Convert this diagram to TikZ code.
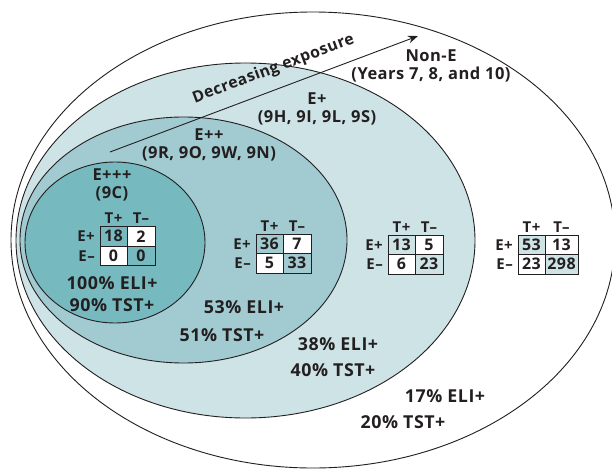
\documentclass[tikz,border=0pt]{standalone}
\usepackage{fontspec}
\setmainfont{Open Sans}[LetterSpace=3]
\usetikzlibrary{shapes.geometric,arrows.meta}

\definecolor{inkc}{HTML}{231F20}
\definecolor{tealA}{HTML}{76BAC0}
\definecolor{tealB}{HTML}{A1CBD0}
\definecolor{tealC}{HTML}{CEE3E6}

\tikzset{
  region/.style={ellipse, draw=inkc, line width=0.9pt, inner sep=0pt},
  cell/.style={draw=inkc, line width=0.9pt, minimum height=19.5pt, inner sep=0pt,
    outer sep=0pt, anchor=north west, text=inkc,
    font=\bfseries\fontsize{16}{17}\selectfont},
  hdr/.style={text=inkc, inner sep=0pt, font=\bfseries\fontsize{15}{16}\selectfont},
  lbl/.style={text=inkc, inner sep=0pt, align=center,
    font=\bfseries\fontsize{16.5}{17.5}\selectfont},
  pct/.style={text=inkc, inner sep=0pt, font=\bfseries\fontsize{17.8}{20}\selectfont},
}

% 2x2 table: #1 name, #2 left, #3 top, #4 shade of the diagonal cells,
% #5 #6 first row, #7 #8 second row, #9 width of the second column
\newcommand\conttable[9]{%
  \node[cell, fill=#4, minimum width=27pt] (#1-a) at (#2,#3) {#5};
  \node[cell, fill=white, minimum width=#9pt] (#1-b) at (#1-a.north east) {#6};
  \node[cell, fill=white, minimum width=27pt] (#1-c) at (#1-a.south west) {#7};
  \node[cell, fill=#4, minimum width=#9pt] (#1-d) at (#1-a.south east) {#8};
  \node[hdr, anchor=base] (#1-tp) at ([yshift=3pt]#1-a.north) {T+};
  \node[hdr, anchor=base] (#1-tm) at ([yshift=3pt]#1-b.north) {T–};
  \node[hdr, anchor=east] (#1-ep) at ([xshift=-5pt]#1-a.west) {E+};
  \node[hdr, anchor=east] (#1-em) at ([xshift=-5pt]#1-c.west) {E–};
}

\begin{document}
\begin{tikzpicture}[x=1pt,y=-1pt]
  \useasboundingbox (0,0) rectangle (612,468);
  \fill[white] (0,0) rectangle (612,468);

  % nested exposure regions
  \node[region, fill=white, minimum width=604pt, minimum height=456pt] (nonE) at (313,240) {};
  \node[region, fill=tealC, minimum width=459pt, minimum height=355pt] (eP) at (245.5,240.5) {};
  \node[region, fill=tealB, minimum width=327pt, minimum height=246pt] (ePP) at (183.5,240) {};
  \node[region, fill=tealA, minimum width=180pt, minimum height=161pt] (ePPP) at (115,242.5) {};

  % exposure gradient arrow
  \coordinate (arrS) at (110,152);
  \coordinate (arrE) at (418,36);
  \draw[draw=inkc, line width=0.9pt, -{Stealth[length=10pt,width=7.5pt]}] (arrS) -- (arrE);
  \node[lbl, font=\bfseries\fontsize{15.8}{17}\selectfont, rotate=20.7, anchor=base]
    (dec) at (275,73) {Decreasing exposure};

  % region labels
  \node[lbl] (lNonE) at (431,66) {Non-E\\(Years 7, 8, and 10)};
  \node[lbl] (lEP) at (317,109) {E+\\(9H, 9I, 9L, 9S)};
  \node[lbl] (lEPP) at (209,145) {E++\\(9R, 9O, 9W, 9N)};
  \node[lbl] (lEPPP) at (112,185) {E+++\\(9C)};

  % counts per region
  \conttable{tA}{100}{226.5}{tealA}{18}{2}{0}{0}{28}
  \conttable{tB}{256}{234}{tealB}{36}{7}{5}{33}{28}
  \conttable{tC}{388}{235}{tealC}{13}{5}{6}{23}{28}
  \conttable{tD}{518}{235}{tealC}{53}{13}{23}{298}{33}

  % positivity rates
  \node[pct] (pA1) at (112,283) {100\% ELI+};
  \node[pct] (pA2) at (112,305) {90\% TST+};
  \node[pct] (pB1) at (244,307) {53\% ELI+};
  \node[pct] (pB2) at (222,335) {51\% TST+};
  \node[pct] (pC1) at (338,344) {38\% ELI+};
  \node[pct] (pC2) at (333,370) {40\% TST+};
  \node[pct] (pD1) at (445,396) {17\% ELI+};
  \node[pct] (pD2) at (403,422) {20\% TST+};
\end{tikzpicture}
\end{document}
